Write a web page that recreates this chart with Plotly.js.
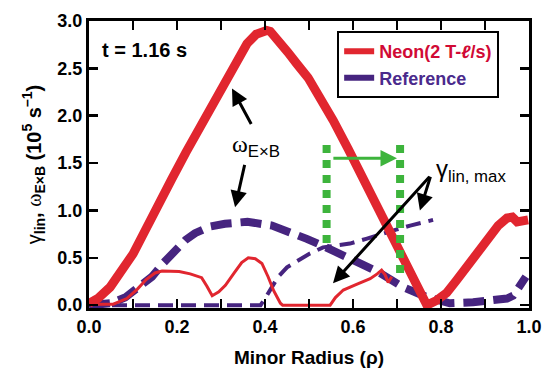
<!DOCTYPE html>
<html>
<head>
<meta charset="utf-8">
<script src="https://cdn.plot.ly/plotly-3.0.1.min.js"></script>
<style>html,body{margin:0;padding:0;background:#fff;}#chart{width:550px;height:374px;}</style>
</head>
<body>
<div id="chart"></div>
<script>
// Neon (2 T-l/s): omega_ExB (thick red)
const neonWexbRho = [0, 0.02, 0.048, 0.075, 0.1, 0.12, 0.139, 0.168, 0.188, 0.22, 0.252, 0.283, 0.313, 0.34, 0.359, 0.38, 0.395, 0.404, 0.412, 0.418, 0.425, 0.43, 0.436, 0.444, 0.452, 0.472, 0.498, 0.517, 0.543, 0.555, 0.589, 0.608, 0.635, 0.661, 0.685, 0.707, 0.728, 0.745, 0.768, 0.79, 0.813, 0.835, 0.859, 0.88, 0.904, 0.93, 0.95, 0.962, 0.973, 0.985, 0.998];
const neonWexbVal = [0.02, 0.07, 0.19, 0.36, 0.54, 0.72, 0.9, 1.155, 1.33, 1.61, 1.88, 2.15, 2.4, 2.62, 2.76, 2.86, 2.89, 2.9, 2.89, 2.86, 2.82, 2.77, 2.74, 2.71, 2.67, 2.55, 2.4, 2.25, 2.06, 1.95, 1.65, 1.47, 1.22, 0.97, 0.75, 0.55, 0.37, 0.2, 0.0, 0.05, 0.13, 0.26, 0.4, 0.54, 0.69, 0.84, 0.92, 0.93, 0.88, 0.9, 0.9];

// Neon: gamma_lin (thin red)
const neonGamRho = [0.01, 0.055, 0.086, 0.11, 0.13, 0.15, 0.166, 0.185, 0.205, 0.23, 0.256, 0.268, 0.28, 0.295, 0.31, 0.33, 0.347, 0.362, 0.378, 0.393, 0.407, 0.42, 0.435, 0.44, 0.548, 0.56, 0.578, 0.608, 0.639, 0.655, 0.665, 0.673, 0.68, 0.688];
const neonGamVal = [0.01, 0.01, 0.07, 0.17, 0.27, 0.34, 0.36, 0.36, 0.355, 0.33, 0.29, 0.2, 0.1, 0.14, 0.21, 0.34, 0.45, 0.5, 0.49, 0.44, 0.3, 0.15, 0.02, 0, 0, 0.08, 0.16, 0.22, 0.28, 0.33, 0.37, 0.32, 0.24, 0.3];

// Reference: omega_ExB (thick purple dashed)
const refWexbRho = [0, 0.05, 0.082, 0.11, 0.143, 0.17, 0.195, 0.22, 0.241, 0.275, 0.309, 0.36, 0.416, 0.46, 0.495, 0.53, 0.555, 0.585, 0.616, 0.661, 0.714, 0.768, 0.8, 0.82, 0.873, 0.927, 0.95, 0.964, 0.976, 0.986, 0.993];
const refWexbVal = [0.0, 0.02, 0.08, 0.18, 0.3, 0.45, 0.58, 0.69, 0.76, 0.83, 0.86, 0.88, 0.84, 0.77, 0.7, 0.63, 0.58, 0.51, 0.44, 0.34, 0.19, 0.085, 0.04, 0.02, 0.03, 0.05, 0.07, 0.1, 0.17, 0.26, 0.3];

// Reference: gamma_lin (thin purple dashed)
const refGamRho = [0, 0.39, 0.4, 0.415, 0.43, 0.45, 0.475, 0.5, 0.532, 0.56, 0.593, 0.63, 0.668, 0.7, 0.73, 0.76, 0.782];
const refGamVal = [0, 0, 0.07, 0.18, 0.3, 0.4, 0.47, 0.54, 0.61, 0.63, 0.65, 0.7, 0.76, 0.8, 0.84, 0.87, 0.9];

// Green dotted markers of gamma_lin,max shift
const greenLeftRho = [0.54, 0.54];
const greenLeftVal = [1.69, 0.63];
const greenRightRho = [0.707, 0.707];
const greenRightVal = [1.69, 0.32];

const xTickVals = [0.0, 0.2, 0.4, 0.6, 0.8, 1.0];
const yTickVals = [0.0, 0.5, 1.0, 1.5, 2.0, 2.5, 3.0];

const legendNames = ['Neon(2 T-<i>ℓ</i>/s)', 'Reference'];

const RED = '#e1262f';
const PURPLE = '#46247f';
const GREEN = '#3db43c';
const FONT = 'Liberation Sans, Arial, sans-serif';

const traces = [
  {x: refGamRho, y: refGamVal, mode: 'lines', showlegend: false,
   line: {color: PURPLE, width: 4, dash: '15px,8px'}},
  {x: refWexbRho, y: refWexbVal, mode: 'lines', showlegend: false,
   line: {color: PURPLE, width: 8, dash: '21px,9px'}},
  {x: neonGamRho, y: neonGamVal, mode: 'lines', showlegend: false,
   line: {color: RED, width: 3}},
  {x: neonWexbRho, y: neonWexbVal, mode: 'lines', showlegend: false,
   line: {color: RED, width: 9}},
  {x: greenLeftRho, y: greenLeftVal, mode: 'lines', showlegend: false,
   line: {color: GREEN, width: 8, dash: '8px,7px'}},
  {x: greenRightRho, y: greenRightVal, mode: 'lines', showlegend: false,
   line: {color: GREEN, width: 8, dash: '8px,7px'}},
  {x: [null], y: [null], mode: 'lines', name: '<span style="color:#d10a35">' + legendNames[0] + '</span>',
   line: {color: RED, width: 6}},
  {x: [null], y: [null], mode: 'lines', name: '<span style="color:#4a2a8c">' + legendNames[1] + '</span>',
   line: {color: PURPLE, width: 6}}
];

function arrow(hx, hy, tx, ty, color) {
  return {x: hx, y: hy, ax: tx, ay: ty, xref: 'x', yref: 'y', axref: 'x', ayref: 'y',
          text: '', showarrow: true, arrowhead: 2, arrowsize: 1.1, arrowwidth: 3, arrowcolor: color || '#000'};
}

const layout = {
  width: 550, height: 374,
  margin: {l: 89, r: 21, t: 20.5, b: 66},
  paper_bgcolor: '#fff', plot_bgcolor: '#fff',
  font: {family: FONT, size: 18, color: '#000', weight: 'bold'},
  xaxis: {
    range: [0, 1], tickvals: xTickVals, tickformat: '.1f',
    ticks: 'inside', ticklen: 9, tickwidth: 2.5, tickcolor: '#000',
    showline: true, linewidth: 3, linecolor: '#000', mirror: 'ticks',
    showgrid: false, zeroline: false,
    minor: {dtick: 0.1, ticks: 'inside', ticklen: 9, tickwidth: 2.5, tickcolor: '#000', showgrid: false},
    tickfont: {family: FONT, size: 18, weight: 'bold'},
    title: {text: 'Minor Radius (ρ)', font: {family: FONT, size: 19, weight: 'bold'}, standoff: 16}
  },
  yaxis: {
    range: [-0.03, 3.0], tickvals: yTickVals, tickformat: '.1f',
    ticks: 'inside', ticklen: 9, tickwidth: 2.5, tickcolor: '#000',
    showline: true, linewidth: 3, linecolor: '#000', mirror: 'ticks',
    showgrid: false, zeroline: false,
    tickfont: {family: FONT, size: 18, weight: 'bold'},
    title: {text: '<span style="font-weight:normal">γ</span><sub>lin</sub>, <span style="font-weight:normal;font-family:Liberation Serif">ω</span><sub>E×B</sub> (10<sup>5</sup> s<sup>–1</sup>)',
            font: {family: FONT, size: 20, weight: 'bold'}, standoff: 11}
  },
  showlegend: true,
  legend: {x: 0.564, y: 0.965, xanchor: 'left', yanchor: 'top',
           bordercolor: '#000', borderwidth: 2, bgcolor: '#fff',
           font: {family: FONT, size: 18, weight: 'bold'}, tracegroupgap: 0},
  annotations: [
    {x: 0.127, y: 2.69, xref: 'x', yref: 'y', text: 't = 1.16 s', showarrow: false,
     font: {family: FONT, size: 20, weight: 'bold', color: '#000'}},
    {x: 0.38, y: 1.68, xref: 'x', yref: 'y', showarrow: false,
     text: '<span style="font-family:Liberation Serif">ω</span><sub>E×B</sub>',
     font: {family: FONT, size: 24, weight: 'normal', color: '#000'}},
    {x: 0.868, y: 1.42, xref: 'x', yref: 'y', showarrow: false,
     text: 'γ<sub>lin, max</sub>',
     font: {family: FONT, size: 24, weight: 'normal', color: '#000'}},
    arrow(0.325, 2.288, 0.3705, 1.897),
    arrow(0.332, 1.033, 0.3545, 1.497),
    arrow(0.5545, 0.232, 0.777, 1.371),
    arrow(0.752, 1.0, 0.777, 1.371),
    arrow(0.70, 1.55, 0.552, 1.55, GREEN)
  ]
};

Plotly.newPlot('chart', traces, layout, {staticPlot: true, displayModeBar: false});
</script>
</body>
</html>
